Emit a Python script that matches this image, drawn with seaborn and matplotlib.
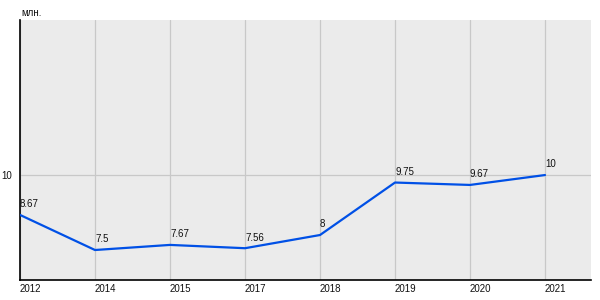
import matplotlib
matplotlib.use("Agg")
import matplotlib.pyplot as plt
import seaborn as sns
import pandas as pd

years = ["2012", "2014", "2015", "2017", "2018", "2019", "2020", "2021"]
values = [8.67, 7.5, 7.67, 7.56, 8, 9.75, 9.67, 10]
value_labels = ["8.67", "7.5", "7.67", "7.56", "8", "9.75", "9.67", "10"]
unit = "млн."

sns.set_style("white")
plt.rcParams["font.family"] = ["Liberation Sans", "DejaVu Sans"]

df = pd.DataFrame({"year": years, "value": values})
df["pos"] = range(len(years))

fig = plt.figure(figsize=(6, 3), dpi=100)
ax = fig.add_axes([20/600, 20/300, 571/600, 260/300])
ax.set_facecolor("#ebebeb")

sns.lineplot(data=df, x="pos", y="value", ax=ax, color="#0050e6", linewidth=1.6, zorder=3)

ax.set_xlim(0, 571/75)
ax.set_ylim(6.5, 15.17)
ax.set_xticks(df["pos"])
ax.set_xticklabels(years, ha="left")
ax.set_yticks([10])
ax.set_yticklabels(["10"])
ax.tick_params(axis="x", length=0, pad=3, labelsize=7, colors="#111111")
ax.tick_params(axis="y", length=3, width=0.8, pad=3, labelsize=7, colors="#111111")
ax.grid(True, color="#c8c8c8", linewidth=0.9, zorder=1)
ax.set_axisbelow(True)
ax.set_xlabel("")
ax.set_ylabel("")

for s in ["top", "right"]:
    ax.spines[s].set_visible(False)
for s in ["left", "bottom"]:
    ax.spines[s].set_color("black")
    ax.spines[s].set_linewidth(1.2)

for p, v, lab in zip(df["pos"], values, value_labels):
    ax.annotate(lab, (p, v), xytext=(0, 4), textcoords="offset points",
                ha="left", va="bottom", fontsize=7, color="#111111", zorder=4)

fig.text(21/600, 1 - 13/300, unit, fontsize=7, va="center", ha="left", color="#111111")

fig.savefig("out.png", dpi=100)
